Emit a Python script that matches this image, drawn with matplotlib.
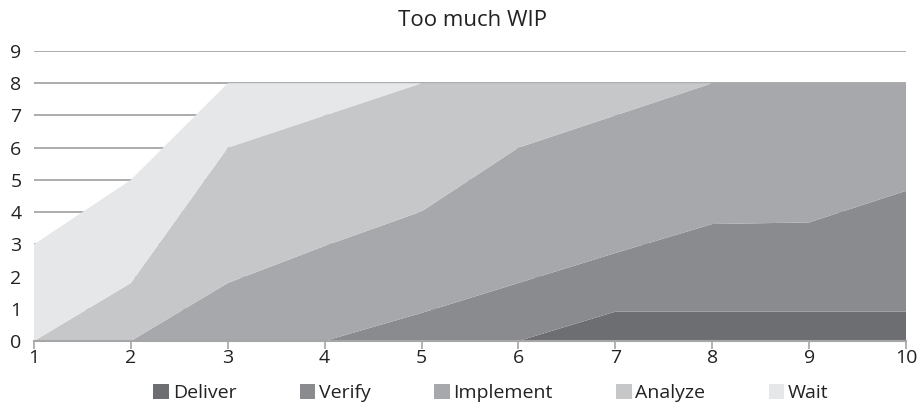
import matplotlib
matplotlib.use("Agg")
import matplotlib.pyplot as plt
from matplotlib.patches import Patch

plt.rcParams['font.family'] = ['Open Sans', 'DejaVu Sans']

x = [1, 2, 3, 4, 5, 6, 7, 8, 9, 10]
labels = ["Deliver", "Verify", "Implement", "Analyze", "Wait"]
deliver = [0, 0, 0, 0, 0, 0, 0.91, 0.91, 0.91, 0.91]
verify = [0, 0, 0, 0, 0.87, 1.80, 1.82, 2.72, 2.77, 3.75]
implement = [0, 0, 1.80, 2.95, 3.15, 4.20, 4.27, 4.37, 4.32, 3.34]
analyze = [0, 1.80, 4.20, 4.05, 3.98, 2.00, 1.00, 0, 0, 0]
wait = [3.00, 3.20, 2.00, 1.00, 0, 0, 0, 0, 0, 0]
colors = ["#6d6e71", "#8a8b8e", "#a7a8ab", "#c6c7c9", "#e6e7e8"]
title = "Too much WIP"

fig = plt.figure(figsize=(9.19, 4.03), dpi=100)
ax = fig.add_axes([34/919, (403-341)/403, (906-34)/919, (341-51)/403])

ax.stackplot(x, deliver, verify, implement, analyze, wait, colors=colors,
             linewidth=0, zorder=2)

ax.set_xlim(1, 10)
ax.set_ylim(0, 9)
ax.set_yticks(range(0, 10))
ax.set_xticks(x)
ax.yaxis.grid(True, color="#a6a6a6", linewidth=1.3, zorder=0)
ax.set_axisbelow(True)
for s in ["top", "right", "left"]:
    ax.spines[s].set_visible(False)
ax.spines["bottom"].set_color("#a6a6a6")
ax.spines["bottom"].set_linewidth(1.5)
ax.spines["bottom"].set_zorder(3)
ax.tick_params(axis="y", length=0, pad=9, labelsize=14, colors="#222222")
ax.tick_params(axis="x", length=6, width=1.2, color="#a6a6a6", pad=0,
               labelsize=14, labelcolor="#222222")

fig.text(472/919, (403-20)/403, title, ha="center", va="center", fontsize=16,
         color="#222222")

handles = [Patch(facecolor=c, edgecolor="none") for c in colors]
fig.legend(handles, labels, loc="center", bbox_to_anchor=(491/919, 10/403),
           ncol=5, frameon=False, fontsize=14, handlelength=0.8, handleheight=0.8,
           handletextpad=0.2, columnspacing=3.25, labelcolor="#222222",
           borderpad=0, borderaxespad=0)

fig.savefig("out.png", dpi=100)
